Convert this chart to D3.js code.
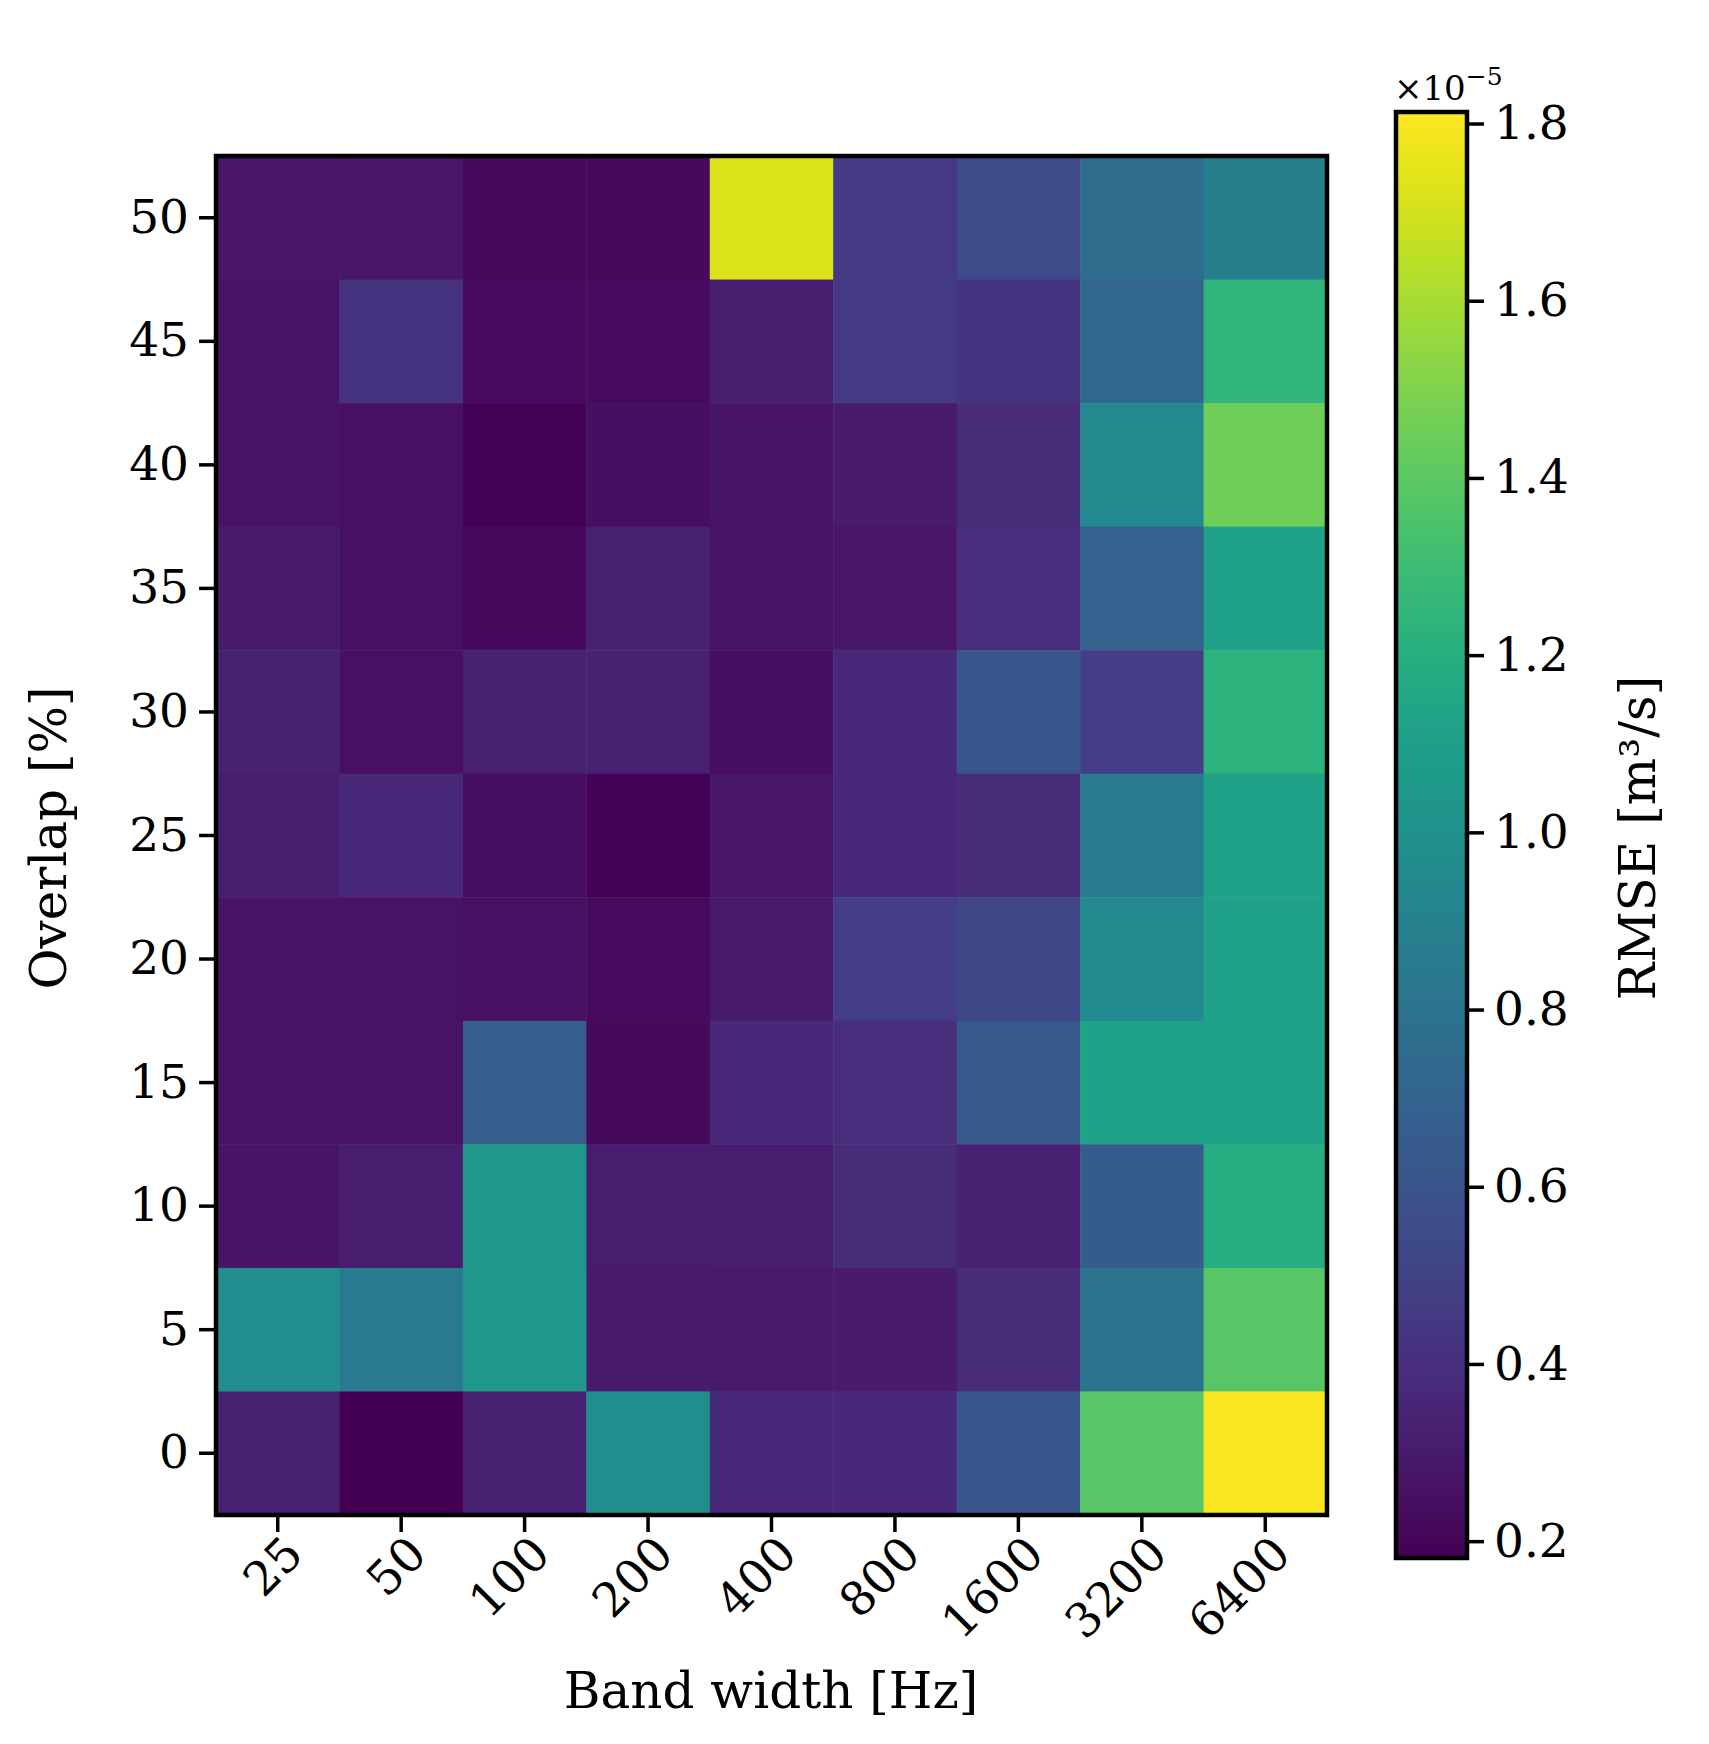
<!DOCTYPE html>
<html><head><meta charset="utf-8">
<script src="https://cdn.jsdelivr.net/npm/d3@7"></script>
<style>body{margin:0;background:#fff}</style>
</head><body><div class="area"></div>
<script>
var bandWidths = ['25','50','100','200','400','800','1600','3200','6400'];
var overlaps = ['50','45','40','35','30','25','20','15','10','5','0'];
// RMSE x1e-5, rows top (50%) to bottom (0%)
var rmse = [
  [0.28,0.28,0.22,0.22,1.72,0.45,0.55,0.75,0.88],
  [0.27,0.42,0.23,0.23,0.32,0.45,0.43,0.72,1.25],
  [0.26,0.25,0.19,0.24,0.27,0.30,0.38,0.95,1.45],
  [0.30,0.25,0.22,0.33,0.26,0.28,0.40,0.68,1.12],
  [0.33,0.25,0.33,0.33,0.24,0.36,0.62,0.48,1.23],
  [0.31,0.37,0.24,0.19,0.28,0.36,0.38,0.85,1.12],
  [0.26,0.26,0.25,0.23,0.29,0.48,0.53,0.95,1.12],
  [0.26,0.26,0.66,0.22,0.37,0.40,0.63,1.12,1.12],
  [0.27,0.31,1.05,0.31,0.31,0.38,0.33,0.65,1.20],
  [0.98,0.85,1.05,0.30,0.29,0.30,0.38,0.80,1.38],
  [0.33,0.18,0.33,0.98,0.37,0.36,0.62,1.38,1.80]
];
var cbTicks = [0.2,0.4,0.6,0.8,1.0,1.2,1.4,1.6,1.8];

var font = "DejaVu Serif", fs = 47;
var svg = d3.select(".area").append("svg").attr("width",1709).attr("height",1744);

var x = d3.scaleBand().domain(bandWidths).range([216,1327]);
var y = d3.scaleBand().domain(overlaps).range([156,1515]);
var color = d3.scaleSequential(d3.interpolateViridis).domain([0.181,1.813]);

var cells = [];
rmse.forEach(function(row,i){ row.forEach(function(v,j){ cells.push({r:overlaps[i],c:bandWidths[j],v:v}); }); });
svg.append("g").selectAll("rect").data(cells).join("rect")
  .attr("x",d=>x(d.c)).attr("y",d=>y(d.r))
  .attr("width",x.bandwidth()+0.5).attr("height",y.bandwidth()+0.5)
  .attr("fill",d=>color(d.v));
svg.append("rect").attr("x",216).attr("y",156).attr("width",1111).attr("height",1359)
  .attr("fill","none").attr("stroke","black").attr("stroke-width",4.5);

var xa = svg.append("g").attr("transform","translate(0,1515)")
  .call(d3.axisBottom(x).tickSize(17).tickPadding(10));
xa.selectAll("text").attr("text-anchor","end")
  .attr("transform",function(){ return "translate(-8,6) rotate(-45)"; })
  .attr("dy","0.5em");
var ya = svg.append("g").attr("transform","translate(216,0)")
  .call(d3.axisLeft(y).tickSize(17).tickPadding(10));
[xa,ya].forEach(function(a){
  a.select(".domain").remove();
  a.selectAll("line").attr("stroke-width",3.5);
  a.selectAll("text").attr("font-family",font).attr("font-size",fs).attr("fill","black");
});

svg.append("text").attr("x",771).attr("y",1708).attr("text-anchor","middle")
  .attr("font-family",font).attr("font-size",fs+3).text("Band width [Hz]");
svg.append("text").attr("transform","translate(66,838) rotate(-90)").attr("text-anchor","middle")
  .attr("font-family",font).attr("font-size",fs+3).text("Overlap [%]");

// colorbar
var cb = d3.scaleLinear().domain([0.181,1.813]).range([1558,112]);
var defs = svg.append("defs");
var grad = defs.append("linearGradient").attr("id","vg").attr("x1",0).attr("y1",1).attr("x2",0).attr("y2",0);
d3.range(0,1.0001,0.05).forEach(function(t){
  grad.append("stop").attr("offset",t).attr("stop-color",d3.interpolateViridis(t));
});
svg.append("rect").attr("x",1396).attr("y",112).attr("width",71).attr("height",1446)
  .attr("fill","url(#vg)").attr("stroke","black").attr("stroke-width",4.5);
var ca = svg.append("g").attr("transform","translate(1467,0)")
  .call(d3.axisRight(cb).tickValues(cbTicks).tickFormat(d3.format(".1f")).tickSize(17).tickPadding(10));
ca.select(".domain").remove();
ca.selectAll("line").attr("stroke-width",3.5);
ca.selectAll("text").attr("font-family",font).attr("font-size",fs).attr("fill","black");

var mult = svg.append("text").attr("x",1394).attr("y",100).attr("font-family",font).attr("font-size",34);
mult.append("tspan").text("×10");
mult.append("tspan").attr("dy",-15).attr("font-size",25).text("−5");

svg.append("text").attr("transform","translate(1655,838) rotate(-90)").attr("text-anchor","middle")
  .attr("font-family",font).attr("font-size",fs+3).text("RMSE [m³/s]");
</script>
</body></html>
